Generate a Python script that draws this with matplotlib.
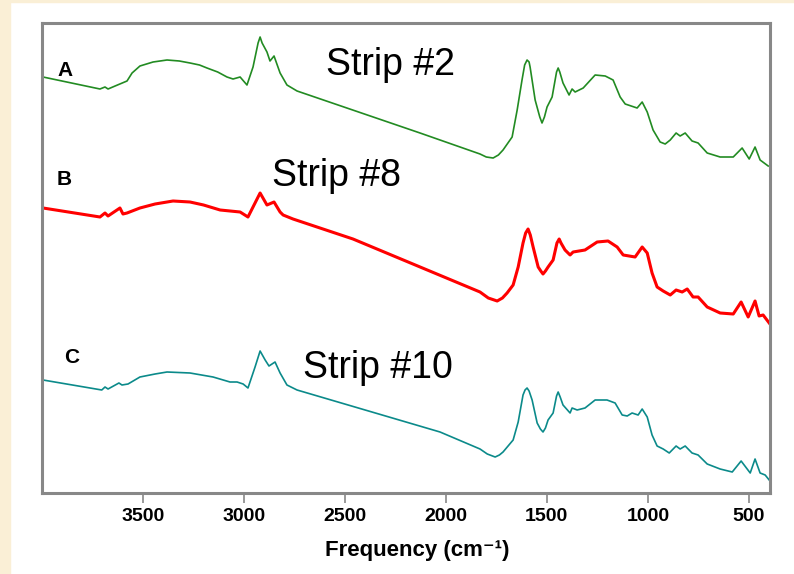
import matplotlib
matplotlib.use('Agg')
import matplotlib.pyplot as plt
from matplotlib.patches import Rectangle

plt.rcParams['font.family'] = ['Liberation Sans', 'DejaVu Sans']

# spectra (frequency in cm-1, offset intensity in arbitrary units)
freq_a = [3995, 3713, 3688, 3673, 3638, 3579, 3554, 3515, 3450, 3381, 3320, 3267, 3220, 3183,
          3130, 3084, 3054, 3019, 2985, 2955, 2930, 2920, 2910, 2886, 2871, 2851, 2821, 2787,
          2737, 2128, 1831, 1800, 1766, 1740, 1717, 1672, 1647, 1623, 1610, 1598, 1588, 1583,
          1558, 1535, 1524, 1512, 1499, 1474, 1452, 1444, 1436, 1420, 1390, 1375, 1360, 1320,
          1261, 1211, 1172, 1137, 1112, 1053, 1028, 1003, 974, 939, 914, 889, 860, 840, 815,
          781, 751, 706, 642, 577, 533, 498, 469, 444, 404]
int_a = [4.16, 4.04, 4.06, 4.04, 4.07, 4.12, 4.20, 4.27, 4.31, 4.33, 4.32, 4.30, 4.28, 4.25,
         4.21, 4.16, 4.14, 4.16, 4.08, 4.26, 4.50, 4.56, 4.50, 4.41, 4.32, 4.37, 4.20, 4.08,
         4.02, 3.60, 3.39, 3.36, 3.35, 3.38, 3.43, 3.56, 3.83, 4.13, 4.28, 4.33, 4.31, 4.26,
         3.93, 3.76, 3.70, 3.76, 3.86, 3.96, 4.21, 4.25, 4.21, 4.10, 3.98, 4.04, 4.01, 4.05,
         4.18, 4.17, 4.13, 3.96, 3.89, 3.85, 3.91, 3.81, 3.63, 3.51, 3.49, 3.53, 3.60, 3.57, 3.60,
         3.52, 3.50, 3.40, 3.36, 3.36, 3.45, 3.34, 3.46, 3.33, 3.27]

freq_b = [3995, 3713, 3688, 3673, 3614, 3599, 3579, 3515, 3440, 3351, 3267, 3200, 3118, 3019,
          2980, 2945, 2920, 2886, 2851, 2821, 2806, 2757, 2460, 1831, 1790, 1746, 1720, 1697,
          1667, 1642, 1618, 1605, 1593, 1582, 1568, 1543, 1530, 1519, 1507, 1494, 1469, 1450,
          1439, 1430, 1410, 1385, 1370, 1311, 1251, 1197, 1152, 1122, 1063, 1028, 1003, 979,
          954, 924, 889, 860, 830, 805, 776, 751, 706, 642, 577, 538, 503, 469, 449, 429, 399]
int_b = [2.85, 2.76, 2.80, 2.77, 2.85, 2.79, 2.80, 2.85, 2.89, 2.92, 2.91, 2.88, 2.83, 2.81,
         2.76, 2.90, 3.00, 2.88, 2.91, 2.81, 2.78, 2.74, 2.54, 2.01, 1.95, 1.92, 1.95, 2.00,
         2.08, 2.26, 2.50, 2.60, 2.64, 2.58, 2.46, 2.26, 2.22, 2.19, 2.22, 2.26, 2.33, 2.50,
         2.54, 2.50, 2.43, 2.38, 2.41, 2.43, 2.51, 2.52, 2.46, 2.38, 2.36, 2.46, 2.40, 2.20,
         2.06, 2.02, 1.98, 2.03, 2.01, 2.04, 1.96, 1.96, 1.86, 1.80, 1.79, 1.91, 1.76, 1.92,
         1.77, 1.78, 1.70]

freq_c = [3995, 3704, 3688, 3673, 3619, 3604, 3574, 3515, 3440, 3381, 3267, 3210, 3153, 3069,
          3034, 3004, 2980, 2945, 2920, 2895, 2876, 2846, 2821, 2787, 2737, 2029, 1831, 1795,
          1756, 1735, 1717, 1667, 1642, 1618, 1608, 1598, 1588, 1573, 1548, 1532, 1519, 1507,
          1494, 1469, 1452, 1444, 1434, 1420, 1385, 1375, 1350, 1311, 1261, 1202, 1162, 1127,
          1102, 1078, 1048, 1028, 1003, 979, 954, 924, 894, 860, 840, 815, 781, 751, 706, 642,
          582, 538, 493, 469, 444, 419, 399]
int_c = [1.13, 1.03, 1.06, 1.04, 1.10, 1.08, 1.09, 1.16, 1.19, 1.21, 1.20, 1.18, 1.16, 1.11,
         1.11, 1.09, 1.05, 1.26, 1.42, 1.33, 1.27, 1.31, 1.20, 1.08, 1.03, 0.61, 0.44, 0.39,
         0.36, 0.38, 0.41, 0.53, 0.71, 0.98, 1.03, 1.05, 1.02, 0.93, 0.70, 0.64, 0.61, 0.65,
         0.73, 0.80, 0.97, 1.01, 0.96, 0.88, 0.80, 0.85, 0.83, 0.85, 0.93, 0.93, 0.90, 0.78,
         0.77, 0.80, 0.78, 0.84, 0.76, 0.58, 0.47, 0.44, 0.40, 0.47, 0.44, 0.47, 0.40, 0.38,
         0.29, 0.24, 0.21, 0.32, 0.20, 0.34, 0.20, 0.18, 0.13]

tick_vals = [3500, 3000, 2500, 2000, 1500, 1000, 500]

fig = plt.figure(figsize=(7.94, 5.74), dpi=100, facecolor='white')
cream = '#faefd6'
fig.add_artist(Rectangle((0, 0), 10 / 794, 1, transform=fig.transFigure, color=cream, zorder=0))
fig.add_artist(Rectangle((0, 1 - 2 / 574), 1, 2 / 574, transform=fig.transFigure, color=cream, zorder=0))

ax = fig.add_axes([42 / 794, 1 - 493 / 574, 728 / 794, 470 / 574])
ax.plot(freq_a, int_a, color='#228b22', lw=1.2, solid_joinstyle='round')
ax.plot(freq_b, int_b, color='#ff0000', lw=2.2, solid_joinstyle='round')
ax.plot(freq_c, int_c, color='#0b8a8a', lw=1.2, solid_joinstyle='round')

ax.set_xlim(4000, 395)
ax.set_ylim(0, 4.70)
ax.set_yticks([])
ax.set_xticks(tick_vals)
ax.set_xticklabels([str(v) for v in tick_vals], fontsize=14, fontweight='bold')
ax.tick_params(axis='x', direction='out', length=7.5, width=1.2, color='#888888', pad=3)
for s in ax.spines.values():
    s.set_color('#888888')
    s.set_linewidth(2.2)

ax.set_xlabel('Frequency (cm\u207b\u00b9)', fontsize=16, fontweight='bold')
ax.xaxis.set_label_coords(0.515, -0.099)

for lab, x, y in [('A', 0.0206, 0.887), ('B', 0.0206, 0.655), ('C', 0.0302, 0.2766)]:
    ax.text(x, y, lab, transform=ax.transAxes, fontsize=15, fontweight='bold', va='baseline')
for lab, x, y in [('Strip #2', 0.390, 0.889), ('Strip #8', 0.316, 0.653), ('Strip #10', 0.3585, 0.2447)]:
    ax.text(x, y, lab, transform=ax.transAxes, fontsize=27, va='baseline')

fig.savefig('out.png', dpi=100, facecolor=fig.get_facecolor())
